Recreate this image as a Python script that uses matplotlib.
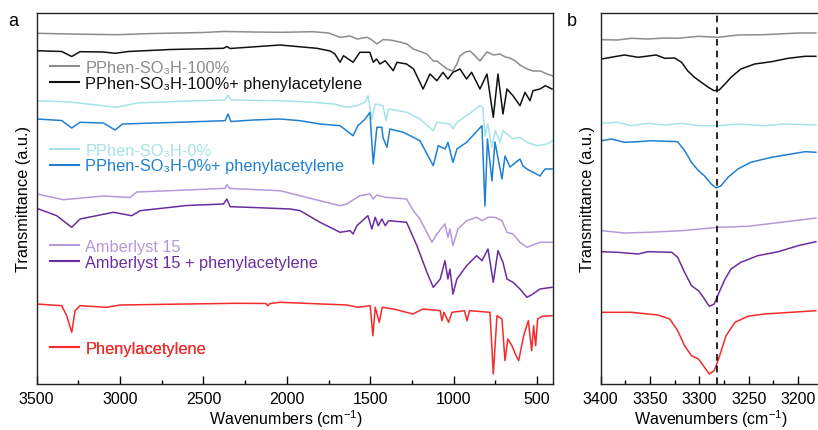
import numpy as np
import matplotlib.pyplot as plt
from matplotlib.lines import Line2D

plt.rcParams['font.family'] = ['Liberation Sans', 'DejaVu Sans']
plt.rcParams['mathtext.fontset'] = 'custom'
plt.rcParams['mathtext.rm'] = 'Liberation Sans'
plt.rcParams['mathtext.it'] = 'Liberation Sans'

# ---- panel a spectra (wavenumber, transmittance a.u. with offsets) ----
wn_gray = [3500, 3300, 3020, 2800, 2500, 2380, 2200, 2041, 1843, 1750, 1681, 1620, 1579, 1519, 1490,
           1460, 1424, 1380, 1322, 1280, 1242, 1160, 1122, 1100, 1040, 1004, 980, 962, 930, 902, 870,
           842, 820, 800, 760, 722, 690, 662, 630, 602, 560, 524, 480, 440, 404]
t_gray = [350.7, 350, 349.3, 350.5, 351.5, 352.5, 352, 351.7, 352.3, 351, 346.7, 348, 345, 346.7, 344,
          340, 344.3, 344, 342, 340, 335, 330, 323, 323, 315, 313, 320, 328, 332, 333, 328,
          323, 328, 332, 329, 330, 327, 326, 323, 319, 315, 313, 313, 310, 308]

wn_black = [3500, 3350, 3290, 3240, 3100, 3030, 2950, 2700, 2380, 2360, 2340, 2041, 1820, 1740, 1712,
            1681, 1660, 1603, 1562, 1502, 1482, 1462, 1442, 1410, 1362, 1340, 1282, 1240, 1183, 1142,
            1100, 1064, 1034, 1004, 962, 922, 892, 842, 800, 762, 734, 704, 680, 644, 602, 572, 542,
            524, 482, 450, 410]
t_black = [333.3, 332.5, 327.5, 332.3, 332, 330.7, 332.5, 334.5, 335.7, 337.5, 335.5, 339, 335.7, 333, 330,
           321.7, 328.3, 321.7, 331.7, 331.7, 321.7, 325, 320, 323.3, 313.3, 321.7, 320, 315, 295, 310,
           303.3, 311.7, 305, 311.7, 315, 305, 311.7, 295, 310, 266.7, 310, 270, 295, 288.3, 278.3, 291.7, 283.3,
           293.3, 295, 298.3, 295]

wn_cyan = [3500, 3300, 3020, 2900, 2600, 2370, 2353, 2335, 2041, 1843, 1720, 1640, 1580, 1530, 1514,
           1490, 1470, 1424, 1405, 1390, 1280, 1202, 1122, 1100, 1022, 1004, 980, 922, 842, 825, 812,
           795, 770, 750, 722, 704, 644, 602, 560, 500, 440, 410]
t_cyan = [283.3, 282, 276.7, 281, 283, 284, 289, 284, 283.3, 281.7, 280, 276.7, 278.3, 282, 288.3,
          265, 280, 278.3, 263.3, 275, 271.7, 265, 253.3, 261.7, 260, 255, 261.7, 268.3, 278.3, 276.7, 248.3,
          260, 237, 253.3, 241.7, 253.3, 245, 246.7, 241.7, 238.3, 240, 243]

wn_blue = [3500, 3350, 3290, 3240, 3100, 3030, 2985, 2600, 2370, 2353, 2335, 2200, 2041, 1920, 1801,
           1681, 1603, 1574, 1530, 1502, 1482, 1460, 1430, 1424, 1400, 1382, 1301, 1202, 1122, 1092,
           1050, 1034, 1004, 980, 922, 830, 812, 797, 770, 752, 710, 692, 662, 602, 584, 560, 482,
           452, 410]
t_blue = [265, 263.5, 256, 261.7, 261, 254, 260, 262, 263.3, 270, 262.5, 264, 265, 263.3, 260,
          258.3, 248.3, 258.3, 265, 271.7, 220, 256.7, 256.7, 246.7, 236.7, 255, 251.7, 243.3, 218.3, 238.3,
          235, 241.7, 221.7, 235, 241.7, 258.3, 178, 245, 203, 242, 205, 228, 217, 225, 218, 215, 208,
          215, 215]

wn_lpurple = [3500, 3340, 3100, 2940, 2900, 2600, 2370, 2360, 2340, 2041, 1843, 1681, 1640, 1562, 1502,
              1482, 1462, 1410, 1282, 1240, 1202, 1130, 1100, 1052, 1034, 1022, 1004, 974, 922, 862,
              830, 794, 752, 710, 680, 644, 602, 560, 482, 410]
t_lpurple = [190, 184.3, 188, 186.5, 192, 194, 195.7, 199.3, 195.5, 193.3, 185, 178.3, 180, 188.3, 190,
             185, 189, 186.7, 185, 173, 165, 141.7, 150, 160, 146.7, 155, 138.3, 155, 163.3, 166.7,
             163.3, 166.7, 166.7, 163.3, 151.7, 150, 141.7, 136.7, 141.7, 141.7]

wn_dpurple = [3500, 3380, 3290, 3240, 3040, 2930, 2880, 2600, 2380, 2360, 2340, 2200, 1980, 1920, 1801,
              1681, 1620, 1603, 1580, 1514, 1490, 1470, 1452, 1430, 1410, 1390, 1282, 1220, 1160, 1122,
              1080, 1052, 1034, 1022, 1004, 980, 922, 862, 830, 794, 762, 734, 704, 680, 644, 602,
              560, 524, 482, 410]
t_dpurple = [175.7, 168.3, 156.7, 165, 171.7, 168.3, 173.3, 178.5, 180, 185, 177.3, 176.5, 175, 173.3, 161.7,
             151.7, 153.3, 150, 158.3, 168.3, 155, 166.7, 158.3, 165, 158.3, 163.3, 161.7, 138.3, 111.7, 96.7,
             105, 123.3, 105, 115, 90, 105, 118.3, 128.3, 123.3, 135, 101.7, 133.3, 121.7, 105, 101.7, 95,
             86.7, 90, 95, 96.7]

wn_red = [3500, 3350, 3320, 3290, 3270, 3240, 3080, 3000, 2600, 2300, 2125, 2115, 2100, 2041, 1640,
          1574, 1500, 1484, 1470, 1446, 1428, 1360, 1244, 1184, 1080, 1070, 1058, 1030, 1010, 935,
          920, 905, 782, 762, 740, 710, 692, 675, 650, 630, 610, 580, 552, 532, 520, 508, 496,
          470, 410]
t_red = [80, 78.3, 68.3, 51.7, 73.3, 78.3, 76.7, 79, 80, 80.7, 80.5, 78.3, 80.5, 81.7, 79,
         76.7, 78.3, 48.3, 76.7, 61.7, 76.7, 75, 70, 75, 73.3, 63.3, 71.7, 61.7, 71.7, 73.3,
         63.3, 73.3, 71.7, 10, 68.3, 65, 23.3, 45, 38.3, 30, 23.3, 48.3, 63.3, 33.3, 58.3, 38.3, 65,
         67.7, 68.3]

# ---- panel b spectra (zoom on the C-H stretch) ----
wnb_gray = [3399, 3383, 3369, 3352, 3335, 3322, 3301, 3281, 3261, 3234, 3200, 3182]
tb_gray = [344.3, 344, 345.7, 345, 346, 345.7, 347.7, 346.7, 349, 349.3, 351, 351]
wnb_black = [3399, 3386, 3376, 3362, 3344, 3335, 3325, 3318, 3312, 3305, 3298, 3291, 3285, 3280,
             3274, 3268, 3258, 3244, 3227, 3210, 3193, 3182]
tb_black = [325, 327.3, 329, 326.7, 329, 325.7, 326, 321.7, 313.3, 306.7, 301.7, 296.7, 293.3, 294,
            300, 306.7, 315, 320, 322.3, 325.7, 327.7, 327.7]
wnb_cyan = [3399, 3383, 3369, 3352, 3335, 3318, 3301, 3281, 3261, 3234, 3214, 3182]
tb_cyan = [260.7, 261.7, 258.3, 260.7, 259, 260.7, 258.3, 258.3, 260, 258.3, 260, 259]
wnb_blue = [3399, 3389, 3376, 3362, 3349, 3322, 3315, 3308, 3301, 3295, 3288, 3283, 3278, 3271,
            3261, 3248, 3227, 3207, 3193, 3182]
tb_blue = [243.3, 245, 241.7, 242.3, 243.3, 242.3, 233.3, 221.7, 213.3, 208.3, 200, 196, 198.3, 206.7,
           215, 221.7, 226.7, 230, 232.3, 231.7]
wnb_lpurple = [3399, 3376, 3352, 3318, 3281, 3251, 3217, 3182]
tb_lpurple = [153.3, 151, 151.7, 153.3, 156.7, 157.7, 161.7, 166]
wnb_dpurple = [3399, 3383, 3362, 3352, 3328, 3322, 3315, 3308, 3301, 3296, 3290, 3285, 3280, 3274,
               3268, 3258, 3241, 3220, 3200, 3182]
tb_dpurple = [132.3, 131.7, 130, 132.3, 131.7, 126.7, 111.7, 98.3, 93.3, 86.7, 77.7, 80, 91.7, 105,
              115, 121.7, 128.3, 132.3, 138.3, 142.3]
wnb_red = [3399, 3369, 3342, 3330, 3322, 3315, 3308, 3301, 3296, 3290, 3285, 3280, 3273, 3264,
           3251, 3234, 3207, 3182]
tb_red = [71.7, 71.7, 69, 65, 53.3, 38.3, 28.3, 25, 18.3, 10, 13.3, 26.7, 48.3, 61.7,
          67.7, 70, 71.7, 73.3]

peak_line = 3282

c_gray, c_black = '#8c8c8c', '#111111'
c_cyan, c_blue = '#a6e3e6', '#1f80d2'
c_lpurple, c_dpurple = '#b49ad8', '#6a2da0'
c_red = '#f32b2b'

labels = ['PPhen-SO\u2083H-100%', 'PPhen-SO\u2083H-100%+ phenylacetylene',
          'PPhen-SO\u2083H-0%', 'PPhen-SO\u2083H-0%+ phenylacetylene',
          'Amberlyst 15', 'Amberlyst 15 + phenylacetylene', 'Phenylacetylene']

fig = plt.figure(figsize=(8.18, 4.31), dpi=100)
H = 431.0
W = 818.0
ax1 = fig.add_axes([36.7 / W, (H - 385) / H, (553 - 36.7) / W, 371 / H])
ax2 = fig.add_axes([600.7 / W, (H - 385) / H, (838 - 600.7) / W, 371 / H])

lw = 1.1
ax1.plot(wn_gray, t_gray, color=c_gray, lw=lw)
ax1.plot(wn_black, t_black, color=c_black, lw=lw)
ax1.plot(wn_cyan, t_cyan, color=c_cyan, lw=lw)
ax1.plot(wn_blue, t_blue, color=c_blue, lw=lw)
ax1.plot(wn_lpurple, t_lpurple, color=c_lpurple, lw=lw)
ax1.plot(wn_dpurple, t_dpurple, color=c_dpurple, lw=lw)
ax1.plot(wn_red, t_red, color=c_red, lw=lw)

ax2.plot(wnb_gray, tb_gray, color=c_gray, lw=lw)
ax2.plot(wnb_black, tb_black, color=c_black, lw=lw)
ax2.plot(wnb_cyan, tb_cyan, color=c_cyan, lw=lw)
ax2.plot(wnb_blue, tb_blue, color=c_blue, lw=lw)
ax2.plot(wnb_lpurple, tb_lpurple, color=c_lpurple, lw=lw)
ax2.plot(wnb_dpurple, tb_dpurple, color=c_dpurple, lw=lw)
ax2.plot(wnb_red, tb_red, color=c_red, lw=lw)
ax2.axvline(peak_line, color='black', ls=(0, (4, 3)), lw=1.2)

ax1.set_xlim(3500, 404)
ax2.set_xlim(3400, 3400 - (838 - 600.7) / 0.987)
for ax in (ax1, ax2):
    ax.set_ylim(0, 371)
    ax.set_yticks([])
    ax.set_ylabel('Transmittance (a.u.)', fontsize=11.8, labelpad=4)
    ax.set_xlabel('Wavenumbers (cm$^{-1}$)', fontsize=11.5, labelpad=1)
    ax.tick_params(axis='x', direction='in', length=6, width=1, labelsize=11.5, pad=5)
    ax.tick_params(axis='x', which='minor', direction='in', length=3, width=1)
    for s in ax.spines.values():
        s.set_linewidth(1.0)
        s.set_color('#222222')
ax1.xaxis.label.set_x(0.483)
ax2.xaxis.label.set_x(0.465)

ax1.set_xticks([3500, 3000, 2500, 2000, 1500, 1000, 500])
ax1.set_xticks(np.arange(3250, 400, -500), minor=True)
ax2.set_xticks([3400, 3350, 3300, 3250, 3200])
ax2.set_xticks([3375, 3325, 3275, 3225], minor=True)

# legends in four groups
colors = [c_gray, c_black, c_cyan, c_blue, c_lpurple, c_dpurple, c_red]
groups = [(0, 2, 0.8315), (2, 4, 0.609), (4, 6, 0.350), (6, 7, 0.097)]
for i0, i1, yc in groups:
    handles = [Line2D([], [], color=colors[i], lw=1.5) for i in range(i0, i1)]
    leg = ax1.legend(handles, labels[i0:i1], loc='center left', bbox_to_anchor=(0.0258, yc),
                     frameon=False, fontsize=11.8, handlelength=1.75, handletextpad=0.4,
                     labelspacing=0.05, borderpad=0, borderaxespad=0)
    for t, i in zip(leg.get_texts(), range(i0, i1)):
        t.set_color(colors[i])
    ax1.add_artist(leg)

fig.text(13 / W, 1 - 22 / H, 'a', fontsize=13, ha='center', va='center')
fig.text(572 / W, 1 - 22 / H, 'b', fontsize=13, ha='center', va='center')

fig.savefig('out.png', dpi=100)
